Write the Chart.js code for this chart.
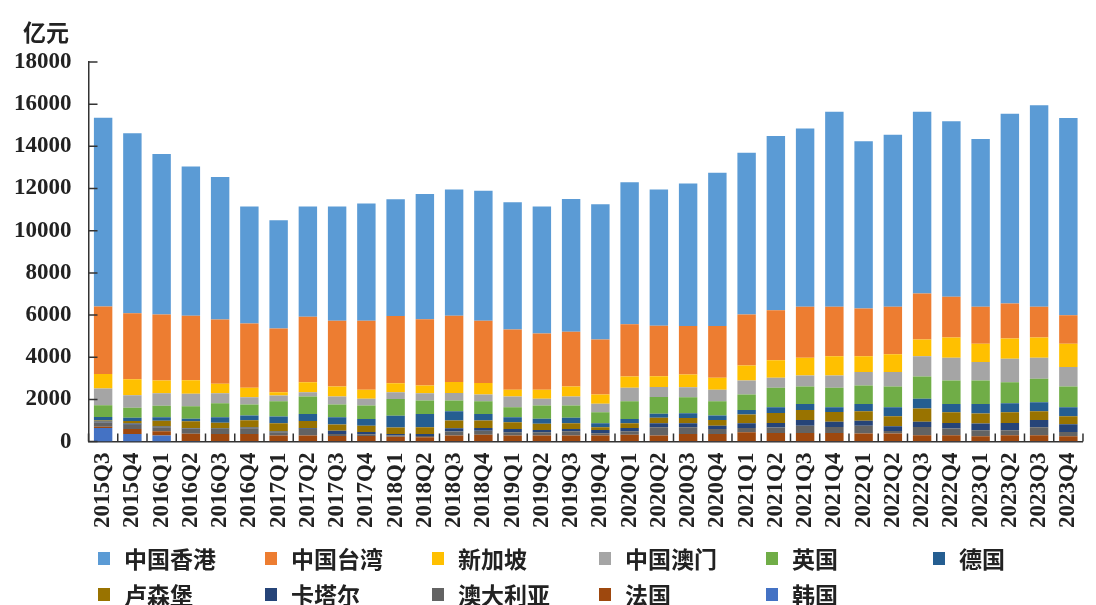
<!DOCTYPE html>
<html>
<head>
<meta charset="utf-8">
<script src="https://cdn.jsdelivr.net/npm/chart.js@4.4.1/dist/chart.umd.min.js"></script>
<style>
    html, body { margin: 0; padding: 0; background: #fff; }
    #wrap { position: relative; width: 1096px; height: 605px; }
    #chart { position: absolute; left: 0; top: 0; }
    #unit { position: absolute; left: 23px; top: 14px; line-height: 26px; font: bold 23px 'Noto Sans CJK SC'; color: #222; }
    #legend { position: absolute; left: 98px; top: 540px; display: grid; grid-template-columns: repeat(6, 167px); grid-auto-rows: 36px; }
    .item { display: flex; align-items: center; font: bold 23px 'Noto Sans CJK SC'; color: #222; white-space: nowrap; }
    .box { width: 12px; height: 13px; margin-right: 14px; flex: none; }
</style>
</head>
<body>
<div id="wrap">
    <canvas id="chart" width="1096" height="605"></canvas>
    <div id="unit">亿元</div>
    <div id="legend"></div>
</div>
<script>
const quarters = [
    '2015Q3', '2015Q4', '2016Q1', '2016Q2', '2016Q3', '2016Q4', '2017Q1', '2017Q2', '2017Q3', '2017Q4',
    '2018Q1', '2018Q2', '2018Q3', '2018Q4', '2019Q1', '2019Q2', '2019Q3', '2019Q4', '2020Q1', '2020Q2',
    '2020Q3', '2020Q4', '2021Q1', '2021Q2', '2021Q3', '2021Q4', '2022Q1', '2022Q2', '2022Q3', '2022Q4',
    '2023Q1', '2023Q2', '2023Q3', '2023Q4'
]

// 亿元
const hongKong = [8953, 8539, 7618, 7082, 6756, 5547, 5135, 5230, 5420, 5570, 5532, 5940, 5982, 6170, 6032, 6023, 6294, 6409, 6729, 6458, 6758, 7258, 7668, 8262, 8453, 9253, 7932, 8153, 8618, 8327, 7953, 8994, 9553, 9350]
const taiwan = [3207, 3127, 3127, 3063, 3048, 3047, 3016, 3095, 3111, 3270, 3190, 3143, 3143, 2952, 2858, 2667, 2587, 2603, 2476, 2397, 2302, 2460, 2413, 2381, 2413, 2349, 2270, 2254, 2191, 1936, 1746, 1667, 1460, 1349]
const singapore = [682, 762, 603, 635, 444, 445, 158, 476, 476, 428, 429, 365, 523, 540, 317, 428, 476, 445, 539, 508, 603, 572, 714, 825, 841, 905, 746, 841, 793, 953, 873, 953, 953, 1111]
const macau = [794, 587, 588, 588, 477, 349, 270, 206, 381, 318, 317, 350, 350, 317, 508, 318, 429, 396, 635, 476, 476, 539, 667, 476, 524, 587, 635, 683, 953, 1079, 873, 1111, 1000, 921]
const uk = [555, 476, 555, 603, 666, 524, 731, 826, 603, 635, 794, 635, 508, 604, 476, 635, 587, 524, 842, 794, 762, 683, 730, 921, 826, 921, 874, 984, 1063, 1112, 1112, 1000, 1111, 984]
const germany = [170, 160, 159, 111, 260, 218, 310, 330, 340, 320, 560, 635, 444, 317, 238, 238, 254, 190, 206, 190, 222, 206, 222, 270, 286, 222, 349, 429, 456, 397, 456, 429, 429, 429]
const luxembourg = [50, 120, 280, 330, 270, 350, 400, 350, 300, 300, 300, 317, 365, 349, 317, 286, 270, 127, 222, 254, 254, 270, 413, 472, 476, 472, 444, 472, 635, 503, 476, 503, 413, 377]
const qatar = [40, 50, 30, 30, 30, 30, 30, 30, 150, 110, 80, 95, 159, 127, 159, 111, 111, 159, 159, 190, 190, 159, 222, 222, 270, 238, 238, 222, 238, 270, 317, 349, 349, 365]
const australia = [200, 200, 190, 238, 238, 280, 160, 307, 100, 80, 60, 60, 190, 190, 159, 159, 206, 111, 159, 397, 317, 238, 206, 254, 344, 286, 377, 127, 397, 317, 286, 238, 376, 206]
const france = [60, 238, 206, 340, 340, 340, 270, 280, 250, 250, 210, 190, 270, 315, 270, 270, 270, 270, 315, 270, 345, 345, 425, 397, 397, 397, 365, 365, 286, 286, 238, 286, 286, 238]
const korea = [650, 365, 286, 30, 15, 15, 15, 15, 15, 15, 15, 15, 15, 15, 15, 15, 15, 15, 15, 15, 15, 15, 15, 15, 15, 15, 15, 15, 15, 15, 15, 15, 15, 15]

// bottom of the stack first
const series = [
    { label: '韩国', data: korea, color: '#4472C4' },
    { label: '法国', data: france, color: '#9E480E' },
    { label: '澳大利亚', data: australia, color: '#636363' },
    { label: '卡塔尔', data: qatar, color: '#264478' },
    { label: '卢森堡', data: luxembourg, color: '#997300' },
    { label: '德国', data: germany, color: '#255E91' },
    { label: '英国', data: uk, color: '#70AD47' },
    { label: '中国澳门', data: macau, color: '#A5A5A5' },
    { label: '新加坡', data: singapore, color: '#FFC000' },
    { label: '中国台湾', data: taiwan, color: '#ED7D31' },
    { label: '中国香港', data: hongKong, color: '#5B9BD5' }
]

const axisColor = '#333'
const tickFont = { family: "'Liberation Serif', serif", size: 23, weight: 'bold' }

// Excel style tick marks pointing into the plot
const innerTicks = {
    id: 'innerTicks',
    afterDraw(chart) {
        const { ctx, chartArea, scales } = chart
        const x = scales.x
        const y = scales.y
        ctx.save()
        ctx.strokeStyle = axisColor
        ctx.lineWidth = 1.5
        ctx.beginPath()
        y.ticks.forEach((t, i) => {
            const py = y.getPixelForTick(i)
            ctx.moveTo(chartArea.left, py)
            ctx.lineTo(chartArea.left + 9, py)
        })
        const step = x.getPixelForValue(1) - x.getPixelForValue(0)
        for (let i = 0; i <= quarters.length; i++) {
            const px = x.getPixelForValue(i) - step / 2
            ctx.moveTo(px, chartArea.bottom)
            ctx.lineTo(px, chartArea.bottom - 8)
        }
        ctx.stroke()
        ctx.restore()
    }
}

const chart = new Chart(document.getElementById('chart'), {
    type: 'bar',
    data: {
        labels: quarters,
        datasets: series.map((s) => ({
            label: s.label,
            data: s.data,
            backgroundColor: s.color,
            barPercentage: 0.63,
            categoryPercentage: 1
        }))
    },
    options: {
        responsive: false,
        animation: false,
        layout: {
            padding: { top: 62, right: 3, bottom: 77, left: 14 }
        },
        plugins: {
            legend: { display: false },
            tooltip: { enabled: false }
        },
        scales: {
            x: {
                stacked: true,
                // hidden grid, its tick length only spaces the labels
                grid: { display: false, drawTicks: true, tickLength: 11 },
                border: { color: axisColor, width: 1.5 },
                ticks: {
                    autoSkip: false,
                    minRotation: 90,
                    maxRotation: 90,
                    padding: 0,
                    color: '#222',
                    font: tickFont
                }
            },
            y: {
                stacked: true,
                min: 0,
                max: 18000,
                grid: { display: false, drawTicks: true, tickLength: 17 },
                border: { color: axisColor, width: 1.5 },
                ticks: {
                    stepSize: 2000,
                    padding: 0,
                    color: '#222',
                    font: tickFont,
                    callback: (v) => String(v)
                }
            }
        }
    },
    plugins: [innerTicks]
})

// legend lists the top of the stack first
const legend = document.getElementById('legend')
chart.data.datasets.slice().reverse().forEach((ds) => {
    const item = document.createElement('div')
    item.className = 'item'
    item.innerHTML = '<span class="box" style="background:' + ds.backgroundColor + '"></span>' + ds.label
    legend.appendChild(item)
})
</script>
</body>
</html>
